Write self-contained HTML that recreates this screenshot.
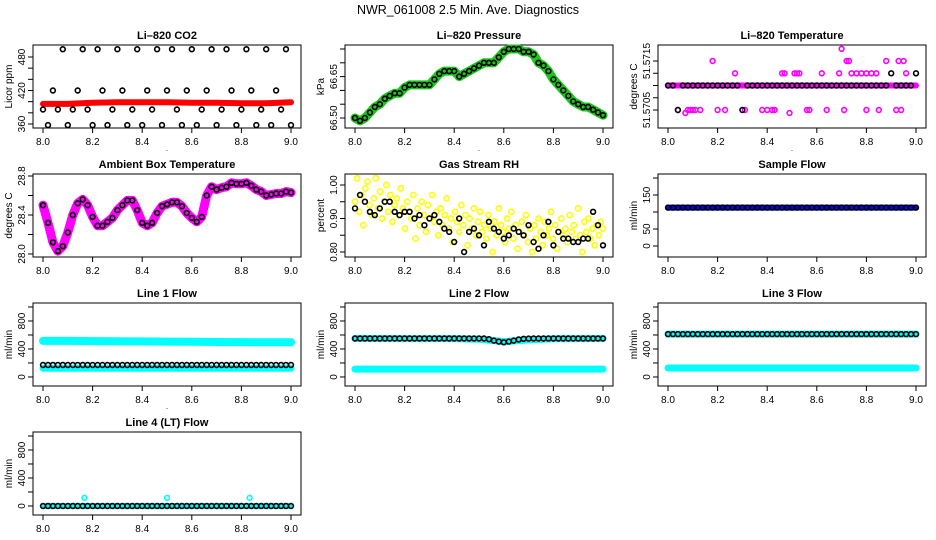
<!DOCTYPE html>
<html><head><meta charset="utf-8"><style>
html,body{margin:0;padding:0;background:#fff;}
svg{display:block;font-family:"Liberation Sans",Arial,sans-serif;}
</style></head><body>
<svg id="chart" width="936" height="540" viewBox="0 0 936 540" xmlns="http://www.w3.org/2000/svg">
<rect x="0" y="0" width="936" height="540" fill="#fff"/>
<text x="468" y="14" font-size="12.5" text-anchor="middle">NWR_061008  2.5 Min. Ave. Diagnostics</text>
</svg>
<script>
// ---- shared times ----
const times51 = [8.00,8.02,8.04,8.06,8.08,8.10,8.12,8.14,8.16,8.18,8.20,8.22,8.24,8.26,8.28,8.30,8.32,8.34,8.36,8.38,8.40,8.42,8.44,8.46,8.48,8.50,8.52,8.54,8.56,8.58,8.60,8.62,8.64,8.66,8.68,8.70,8.72,8.74,8.76,8.78,8.80,8.82,8.84,8.86,8.88,8.90,8.92,8.94,8.96,8.98,9.00];
const times11 = [8.0,8.1,8.2,8.3,8.4,8.5,8.6,8.7,8.8,8.9,9.0];
const xTicks = [8.0,8.2,8.4,8.6,8.8,9.0];
const xTickLabels = ["8.0","8.2","8.4","8.6","8.8","9.0"];
// ---- CO2 ----
const co2Black = [386,358,420,386,494,358,386,420,494,386,358,494,420,358,386,494,420,358,386,494,358,420,386,494,358,420,494,386,358,420,494,358,386,420,494,358,386,494,420,358,386,494,420,358,386,494,358,420,386,494,358];
const co2Red = [396,396,398,399,399,399,398,398,397,397,399];
// ---- Pressure ----
const pressure = [66.50,66.49,66.50,66.52,66.54,66.55,66.57,66.58,66.59,66.59,66.61,66.62,66.62,66.62,66.62,66.62,66.64,66.66,66.67,66.67,66.67,66.65,66.66,66.67,66.68,66.69,66.70,66.70,66.70,66.72,66.74,66.75,66.75,66.75,66.74,66.74,66.73,66.70,66.69,66.67,66.64,66.62,66.60,66.58,66.56,66.55,66.54,66.54,66.53,66.52,66.51];
// ---- Li-820 temperature ----
const tempBlack = [51.571,51.571,51.5705,51.571,51.571,51.571,51.571,51.571,51.571,51.571,51.571,51.571,51.571,51.571,51.571,51.5705,51.571,51.571,51.571,51.571,51.571,51.571,51.571,51.571,51.571,51.571,51.571,51.571,51.571,51.571,51.571,51.571,51.571,51.571,51.571,51.571,51.571,51.571,51.571,51.571,51.571,51.571,51.571,51.571,51.571,51.57125,51.571,51.571,51.571,51.571,51.57125];
const tempBand = [51.571,51.571,51.571,51.571,51.571,51.571,51.571,51.571,51.571,51.571,51.571];
const tempMagX = [8.04,8.07,8.08,8.09,8.10,8.11,8.13,8.18,8.20,8.23,8.27,8.31,8.38,8.40,8.42,8.43,8.46,8.47,8.49,8.51,8.52,8.53,8.56,8.57,8.62,8.64,8.69,8.70,8.71,8.72,8.73,8.74,8.76,8.78,8.80,8.80,8.82,8.84,8.85,8.88,8.92,8.93,8.94,8.95,8.96];
const tempMagY = [51.5705,51.57044,51.5705,51.5705,51.5705,51.5705,51.5705,51.5715,51.5705,51.5705,51.57125,51.5705,51.5705,51.5705,51.5705,51.5705,51.57125,51.57125,51.57044,51.57125,51.57125,51.57125,51.5705,51.5705,51.57125,51.5705,51.57125,51.57175,51.5705,51.5715,51.5715,51.57125,51.57125,51.57125,51.57125,51.5705,51.57125,51.57125,51.5705,51.5715,51.5705,51.5715,51.5705,51.5715,51.57125];
// ---- Ambient ----
const ambient = [28.50,28.32,28.12,28.03,28.08,28.22,28.40,28.52,28.56,28.50,28.38,28.29,28.29,28.33,28.37,28.45,28.50,28.55,28.55,28.45,28.32,28.29,28.32,28.42,28.49,28.51,28.53,28.53,28.49,28.42,28.37,28.33,28.38,28.60,28.69,28.66,28.68,28.69,28.73,28.72,28.72,28.73,28.70,28.66,28.64,28.60,28.61,28.62,28.62,28.64,28.63];
// ---- RH ----
const rhYellow = [0.95,1.02,0.92,0.97,0.88,0.99,1.01,0.94,0.91,0.96,1.02,0.93,0.98,0.90,0.95,1.00,0.92,0.97,0.89,0.94,0.96,0.91,0.99,0.93,0.87,0.95,0.92,0.90,0.97,0.84,0.93,0.88,0.95,0.91,0.86,0.94,0.90,0.97,0.89,0.92,0.85,0.93,0.88,0.91,0.96,0.87,0.90,0.83,0.92,0.89,0.86,0.94,0.88,0.91,0.82,0.90,0.87,0.93,0.85,0.89,0.92,0.86,0.88,0.84,0.91,0.87,0.80,0.89,0.85,0.93,0.88,0.86,0.83,0.90,0.87,0.92,0.84,0.88,0.81,0.86,0.89,0.85,0.91,0.83,0.87,0.80,0.88,0.84,0.90,0.86,0.82,0.89,0.85,0.87,0.92,0.84,0.88,0.81,0.86,0.90,0.85,0.87,0.83,0.91,0.86,0.88,0.84,0.93,0.85,0.80,0.89,0.86,0.90,0.84,0.87,0.82,0.88,0.85,0.89,0.87];
const rhBlack = [0.93,0.97,0.95,0.92,0.91,0.93,0.95,0.95,0.92,0.91,0.92,0.92,0.90,0.91,0.88,0.90,0.91,0.89,0.87,0.86,0.83,0.90,0.80,0.86,0.87,0.85,0.82,0.89,0.87,0.86,0.84,0.85,0.87,0.86,0.85,0.88,0.83,0.81,0.85,0.89,0.82,0.86,0.84,0.84,0.83,0.83,0.84,0.84,0.92,0.88,0.82];
// ---- Flows ----
const sampleBlack = [113,113,113,113,113,113,113,113,113,113,113,113,113,113,113,113,113,113,113,113,113,113,113,113,113,113,113,113,113,113,113,113,113,113,113,113,113,113,113,113,113,113,113,113,113,113,113,113,113,113,113];
const sampleBlue = [113,113,113,113,113,113,113,113,113,113,113];
const line1Upper = [515,515,512,510,508,505,503,500,498,496,495];
const line1Lower = [125,125,125,125,125,125,125,125,125,125,125];
const line1Black = [171,171,171,171,171,171,171,171,171,171,171,171,171,171,171,171,171,171,171,171,171,171,171,171,171,171,171,171,171,171,171,171,171,171,171,171,171,171,171,171,171,171,171,171,171,171,171,171,171,171,171];
const line2Upper = [550,550,548,548,548,540,505,530,545,548,550];
const line2Lower = [112,112,112,112,112,112,112,112,112,112,112];
const line2Black = [550,550,550,550,550,550,550,550,550,550,550,550,550,550,550,550,550,550,550,550,550,550,550,550,550,550,550,540,520,505,495,505,520,535,545,548,550,550,550,550,550,550,550,550,550,550,550,550,550,550,550];
const line3Upper = [612,612,612,612,612,612,612,612,612,612,612];
const line3Lower = [128,128,128,128,128,128,128,128,128,128,128];
const line3Black = [612,612,612,612,612,612,612,612,612,612,612,612,612,612,612,612,612,612,612,612,612,612,612,612,612,612,612,612,612,612,612,612,612,612,612,612,612,612,612,612,612,612,612,612,612,612,612,612,612,612,612];
const line4Band = [0,0,0,0,0,0,0,0,0,0,0];
const line4Black = [0,0,0,0,0,0,0,0,0,0,0,0,0,0,0,0,0,0,0,0,0,0,0,0,0,0,0,0,0,0,0,0,0,0,0,0,0,0,0,0,0,0,0,0,0,0,0,0,0,0,0];
const line4OutX = [8.167,8.5,8.833];
const line4OutY = [115,115,115];

const NS = "http://www.w3.org/2000/svg";
const svg = document.getElementById("chart");
function mk(tag, attrs, parent) {
  const e = document.createElementNS(NS, tag);
  for (const k in attrs) e.setAttribute(k, attrs[k]);
  (parent || svg).appendChild(e);
  return e;
}
const colX = [33, 345, 658], BW = 268, BH = 83;
function panel(key, col, row, title, ylab, ylo, yhi, yTicks, yLabels, dot) {
  const g = mk("g", {});
  
  
  const L = colX[col], T = 45 + 129 * row, R = L + BW, B = T + BH;
  const xs = v => L + 10 + (v - 8) * 248;
  const ys = v => B - (v - ylo) / (yhi - ylo) * BH;
  const box = mk("rect", {x: L, y: T, width: BW, height: BH, fill: "none", stroke: "#000", "stroke-width": 1}, g);
  
  
  const tt = mk("text", {x: L + BW / 2, y: T - 6, "font-size": 11, "font-weight": "bold", "text-anchor": "middle"}, g);
  tt.textContent = title;
  
  
  const yl = mk("text", {transform: `translate(${L - 21},${T + BH / 2}) rotate(-90)`, "font-size": 10, "text-anchor": "middle"}, g);
  yl.textContent = ylab;
  
  
  xTicks.forEach((t, i) => {
    mk("line", {x1: xs(t), x2: xs(t), y1: B, y2: B + 5, stroke: "#000"}, g);
    const lab = mk("text", {x: xs(t), y: B + 17, "font-size": 10, "text-anchor": "middle"}, g);
    lab.textContent = xTickLabels[i];
    
    
  });
  if (dot) { const d = mk("text", {x: L + BW / 2, y: B + 23, "font-size": 8, "text-anchor": "middle"}, g); d.textContent = "."; }
  yTicks.forEach(t => { mk("line", {x1: L, x2: L - 5, y1: ys(t), y2: ys(t), stroke: "#000"}, g); });
  yLabels.forEach(t => {
    const lab = mk("text", {transform: `translate(${L - 8},${ys(t[0])}) rotate(-90)`, "font-size": 10, "text-anchor": "middle"}, g);
    lab.textContent = t[1];
    
    
  });
  return {g, xs, ys};
}
function band(p, xArr, yArr, color, w, name) {
  const d = xArr.map((x, i) => (i ? "L" : "M") + p.xs(x).toFixed(1) + "," + p.ys(yArr[i]).toFixed(1)).join("");
  const e = mk("path", {d, fill: "none", stroke: color, "stroke-width": w, "stroke-linecap": "round", "stroke-linejoin": "round"}, p.g);
  
  
}
function pts(p, xArr, yArr, color, name, r) {
  xArr.forEach((x, i) => {
    const c = mk("circle", {cx: p.xs(x).toFixed(1), cy: p.ys(yArr[i]).toFixed(1), r: r || 2.4, fill: "none", stroke: color, "stroke-width": 1.6}, p.g);
    
    
  });
}
function idxTimes(n) { return Array.from({length: n}, (_, i) => 8 + i / (n - 1)); }

let p;
p = panel("co2", 0, 0, "Li\u2013820 CO2", "Licor ppm", 352.8, 501.5, [360,380,400,420,440,460,480], [[360,"360"],[420,"420"],[480,"480"]], true);
band(p, times11, co2Red, "#f00", 6, "co2-red-series");
pts(p, times51, co2Black, "#000", "co2-point");

p = panel("pressure", 1, 0, "Li\u2013820 Pressure", "kPa", 66.4638, 66.7645, [66.50,66.55,66.60,66.65,66.70,66.75], [[66.50,"66.50"],[66.65,"66.65"]], true);
band(p, times51, pressure, "#19c819", 9, "pressure-green-series");
pts(p, times51, pressure, "#000", "pressure-point");

p = panel("li820-temp", 2, 0, "Li\u2013820 Temperature", "degrees C", 51.570133, 51.571827, [51.5705,51.57075,51.571,51.57125,51.5715], [[51.5705,"51.5705"],[51.5715,"51.5715"]], true);
band(p, times11, tempBand, "#f0f", 6, "temp-magenta-series");
pts(p, tempMagX, tempMagY, "#f0f", "temp-magenta-point");
pts(p, times51, tempBlack, "#000", "temp-point");

p = panel("ambient", 0, 1, "Ambient Box Temperature", "degrees C", 27.969, 28.8205, [28.0,28.2,28.4,28.6,28.8], [[28.0,"28.0"],[28.4,"28.4"],[28.8,"28.8"]], false);
band(p, times51, ambient, "#f0f", 9, "ambient-magenta-series");
pts(p, times51, ambient, "#000", "ambient-point");

p = panel("rh", 1, 1, "Gas Stream RH", "percent", 0.7851, 1.0328, [0.80,0.85,0.90,0.95,1.00], [[0.80,"0.80"],[0.90,"0.90"],[1.00,"1.00"]], false);
pts(p, idxTimes(rhYellow.length), rhYellow, "#ff0", "rh-yellow-point", 2.6);
pts(p, times51, rhBlack, "#000", "rh-point");

p = panel("sample-flow", 2, 1, "Sample Flow", "ml/min", -32.4, 211.8, [0,50,100,150,200], [[0,"0"],[50,"50"],[150,"150"]], false);
band(p, times11, sampleBlue, "#00f", 6, "sample-blue-series");
pts(p, times51, sampleBlack, "#000", "sample-point");

const flowTicks = [0,200,400,600,800,1000], flowLabels = [[0,"0"],[400,"400"],[800,"800"]];
p = panel("line1", 0, 2, "Line 1 Flow", "ml/min", -129, 1057, flowTicks, flowLabels, true);
band(p, times11, line1Upper, "#0ff", 8, "line1-cyan-upper");
band(p, times11, line1Lower, "#0ff", 7, "line1-cyan-lower");
pts(p, times51, line1Black, "#000", "line1-point");

p = panel("line2", 1, 2, "Line 2 Flow", "ml/min", -129, 1057, flowTicks, flowLabels, false);
band(p, times11, line2Upper, "#0ff", 7, "line2-cyan-upper");
band(p, times11, line2Lower, "#0ff", 7, "line2-cyan-lower");
pts(p, times51, line2Black, "#000", "line2-point");

p = panel("line3", 2, 2, "Line 3 Flow", "ml/min", -129, 1057, flowTicks, flowLabels, false);
band(p, times11, line3Upper, "#0ff", 7, "line3-cyan-upper");
band(p, times11, line3Lower, "#0ff", 7, "line3-cyan-lower");
pts(p, times51, line3Black, "#000", "line3-point");

p = panel("line4", 0, 3, "Line 4 (LT) Flow", "ml/min", -129, 1057, flowTicks, flowLabels, false);
band(p, times11, line4Band, "#0ff", 6, "line4-cyan-series");
pts(p, line4OutX, line4OutY, "#0ff", "line4-cyan-outlier");
pts(p, times51, line4Black, "#000", "line4-point");
</script>
</body></html>
